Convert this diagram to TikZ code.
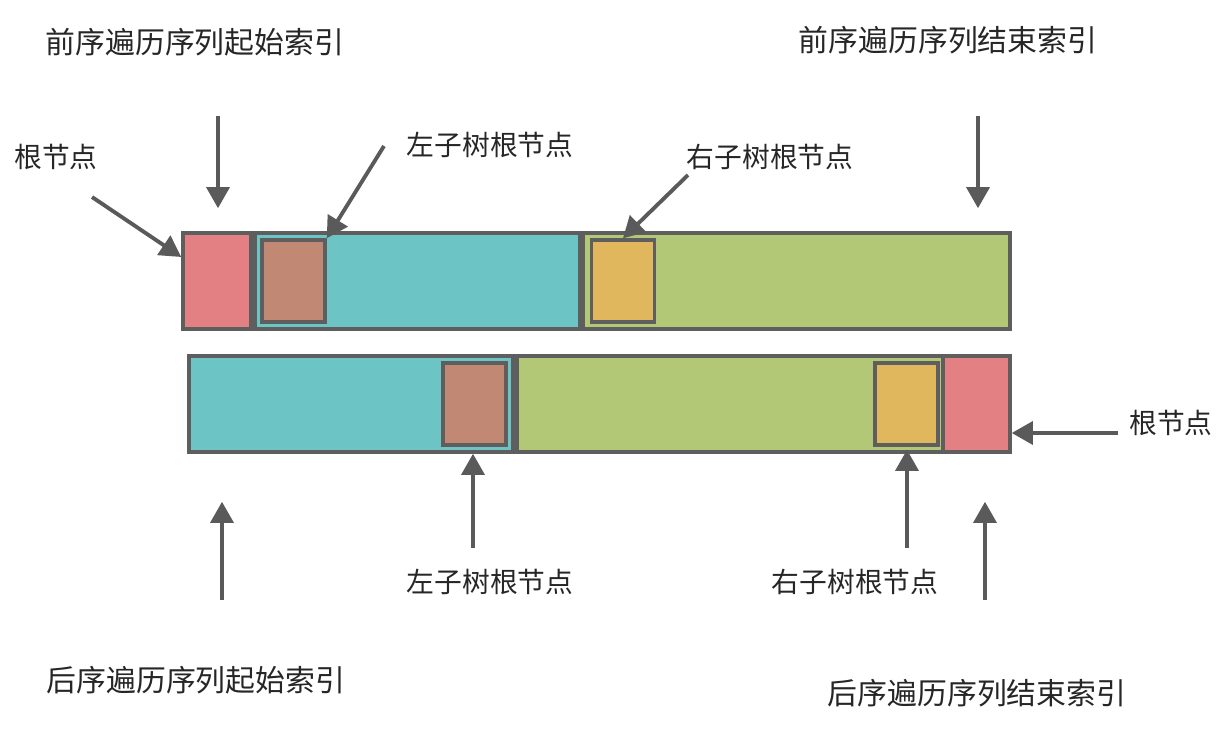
\documentclass[tikz,border=0pt]{standalone}
\usepackage{fontspec}
\newfontfamily\cjk{Noto Sans CJK SC}
\usepackage{xcolor}
\usepackage{tikz}
\usetikzlibrary{arrows.meta,calc}
\definecolor{rootred}{HTML}{E38083}
\definecolor{leftteal}{HTML}{6DC4C4}
\definecolor{leftbrown}{HTML}{C18873}
\definecolor{rightgreen}{HTML}{B2C877}
\definecolor{rightyellow}{HTML}{E0B75C}
\definecolor{edgegray}{HTML}{5E5E5E}
\definecolor{arrgray}{HTML}{5A5A5A}
\tikzset{
  seg/.style  ={draw=edgegray, line width=2pt, rectangle, inner sep=0pt, minimum height=1.92cm},
  sub/.style  ={draw=edgegray, line width=2pt, rectangle, inner sep=0pt, minimum height=1.64cm, minimum width=1.26cm},
  lbl/.style  ={font=\cjk\fontsize{17}{20}\selectfont, text=black!85, inner sep=0pt},
  nlbl/.style ={font=\cjk\fontsize{15.8}{19}\selectfont, text=black!85, inner sep=0pt},
  arr/.style  ={-{Triangle[length=12pt, width=13pt]}, draw=arrgray, line width=2.2pt},
}

\begin{document}
\begin{tikzpicture}[x=0.02cm, y=-0.02cm]
  \useasboundingbox (0,0) rectangle (1228,731);

  % Preorder row: root | left subtree | right subtree
  \node[seg, fill=rootred,    minimum width=1.36cm] (rootA)  at (217,   281) {};
  \node[seg, fill=leftteal,   minimum width=6.50cm] (tealA)  at (417.5, 281) {};
  \node[seg, fill=rightgreen, minimum width=8.54cm] (greenA) at (796.5, 281) {};
  \node[sub, fill=leftbrown]   (lsubA) at (293.5, 281) {};
  \node[sub, fill=rightyellow] (rsubA) at (623,   281) {};

  % Postorder row: left subtree | right subtree | root
  \node[seg, fill=leftteal,   minimum width=6.48cm] (tealB)  at (351,   404) {};
  \node[seg, fill=rightgreen, minimum width=8.52cm] (greenB) at (730,   404) {};
  \node[seg, fill=rootred,    minimum width=1.34cm] (rootB)  at (976.5, 404) {};
  \node[sub, fill=leftbrown]   (lsubB) at (474.5, 404) {};
  \node[sub, fill=rightyellow] (rsubB) at (906.5, 404) {};

  % Labels
  \node[lbl]  (preStart)  at (195,  42) {前序遍历序列起始索引};
  \node[lbl]  (preEnd)    at (948,  40) {前序遍历序列结束索引};
  \node[nlbl] (rootTop)   at (56,  157) {根节点};
  \node[nlbl] (lsubTop)   at (490, 145) {左子树根节点};
  \node[nlbl] (rsubTop)   at (770, 157) {右子树根节点};
  \node[nlbl] (rootBot)   at (1171,423) {根节点};
  \node[nlbl] (lsubBot)   at (490, 582) {左子树根节点};
  \node[nlbl] (rsubBot)   at (855, 582) {右子树根节点};
  \node[lbl]  (postStart) at (196, 680) {后序遍历序列起始索引};
  \node[lbl]  (postEnd)   at (977, 693) {后序遍历序列结束索引};

  % Arrow tails
  \coordinate (ps) at (218, 116);
  \coordinate (pe) at (978, 116);
  \coordinate (ra) at (92,  197);
  \coordinate (la) at (384, 146);
  \coordinate (rb) at (688, 175);
  \coordinate (qs) at (222, 600);
  \coordinate (ql) at (473, 548);
  \coordinate (qr) at (907, 548);
  \coordinate (qe) at (985, 600);
  \coordinate (rr) at (1118,433);

  % Preorder arrows
  \draw[arr, shorten >=0.46cm] (ps) -- (ps |- rootA.north);
  \draw[arr, shorten >=0.46cm] (pe) -- (pe |- greenA.north);
  \draw[arr] (ra) -- (rootA);
  \draw[arr] (la) -- (lsubA.north east);
  \draw[arr] (rb) -- (rsubA.north);

  % Postorder arrows
  \draw[arr, shorten >=0.96cm] (qs) -- (qs |- tealB.south);
  \draw[arr] (ql) -- (ql |- tealB.south);
  \draw[arr, shorten >=0.06cm] (qr) -- (qr |- rsubB.south);
  \draw[arr, shorten >=0.96cm] (qe) -- (qe |- rootB.south);
  \draw[arr] (rr) -- (rr -| rootB.east);
\end{tikzpicture}
\end{document}
